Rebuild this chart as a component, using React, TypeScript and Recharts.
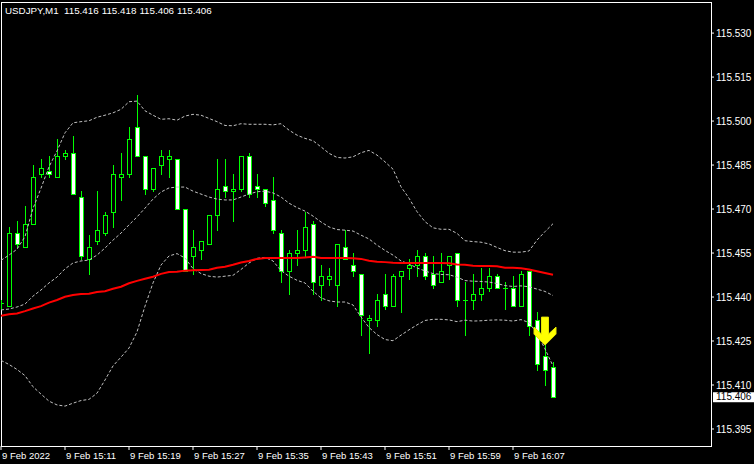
import React from 'react';
import {
  ComposedChart,
  Bar,
  Line,
  XAxis,
  YAxis,
  ReferenceArea,
  ReferenceLine,
  ReferenceDot,
  Customized,
} from 'recharts';

const symbolTitle = 'USDJPY,M1';
const lastQuote = ['115.416', '115.418', '115.406', '115.406'];

// One-minute bars, 9 Feb 2022 15:03 .. 16:12
const opens = [
  115.438, 115.437, 115.462, 115.457, 115.465, 115.482, 115.483, 115.481, 115.488, 115.489,
  115.474, 115.453, 115.459, 115.462, 115.469, 115.481, 115.482, 115.498, 115.488, 115.477,
  115.485, 115.487, 115.487, 115.470, 115.454, 115.456, 115.458, 115.468, 115.478, 115.476,
  115.477, 115.488, 115.478, 115.477, 115.473, 115.462, 115.449, 115.455, 115.456, 115.465,
  115.444, 115.446, 115.444, 115.457, 115.451, 115.448, 115.432, 115.432, 115.441, 115.437,
  115.447, 115.450, 115.451, 115.454, 115.448, 115.445, 115.451, 115.455, 115.439, 115.439,
  115.441, 115.443, 115.447, 115.443, 115.443, 115.437, 115.449, 115.432, 115.420, 115.416,
];
const highs = [
  115.439, 115.464, 115.466, 115.471, 115.485, 115.487, 115.488, 115.494, 115.490, 115.495,
  115.476, 115.461, 115.476, 115.469, 115.485, 115.489, 115.498, 115.509, 115.488, 115.484,
  115.490, 115.490, 115.487, 115.470, 115.463, 115.459, 115.468, 115.487, 115.487, 115.482,
  115.488, 115.489, 115.482, 115.477, 115.481, 115.463, 115.456, 115.463, 115.469, 115.466,
  115.451, 115.450, 115.458, 115.463, 115.455, 115.448, 115.434, 115.441, 115.448, 115.448,
  115.449, 115.453, 115.456, 115.455, 115.454, 115.455, 115.454, 115.455, 115.445, 115.448,
  115.450, 115.450, 115.448, 115.445, 115.447, 115.449, 115.449, 115.435, 115.424, 115.418,
];
const lows = [
  115.436, 115.437, 115.457, 115.457, 115.465, 115.481, 115.481, 115.481, 115.487, 115.475,
  115.453, 115.448, 115.458, 115.461, 115.464, 115.473, 115.481, 115.488, 115.475, 115.476,
  115.482, 115.481, 115.470, 115.449, 115.448, 115.453, 115.458, 115.463, 115.474, 115.466,
  115.476, 115.474, 115.474, 115.471, 115.462, 115.445, 115.441, 115.451, 115.454, 115.441,
  115.439, 115.444, 115.437, 115.453, 115.447, 115.427, 115.421, 115.430, 115.436, 115.437,
  115.435, 115.446, 115.447, 115.446, 115.443, 115.445, 115.446, 115.437, 115.427, 115.436,
  115.439, 115.442, 115.443, 115.436, 115.437, 115.437, 115.427, 115.415, 115.410, 115.406,
];
const closes = [
  115.438, 115.462, 115.458, 115.465, 115.481, 115.484, 115.482, 115.488, 115.489, 115.475,
  115.454, 115.457, 115.463, 115.468, 115.482, 115.482, 115.494, 115.488, 115.477, 115.484,
  115.488, 115.488, 115.470, 115.449, 115.457, 115.459, 115.468, 115.477, 115.476, 115.477,
  115.488, 115.475, 115.477, 115.472, 115.463, 115.449, 115.455, 115.456, 115.464, 115.445,
  115.447, 115.447, 115.458, 115.453, 115.449, 115.434, 115.433, 115.439, 115.437, 115.447,
  115.449, 115.451, 115.454, 115.447, 115.444, 115.449, 115.454, 115.439, 115.439, 115.441,
  115.443, 115.447, 115.443, 115.443, 115.437, 115.448, 115.430, 115.417, 115.415, 115.406,
];

// Red moving average
const maValues = [
  115.4336, 115.4341, 115.4344, 115.4352, 115.4361, 115.4369, 115.4381, 115.4390, 115.4401, 115.4407,
  115.4410, 115.4411, 115.4417, 115.4420, 115.4428, 115.4435, 115.4447, 115.4455, 115.4462, 115.4469,
  115.4479, 115.4485, 115.4486, 115.4490, 115.4491, 115.4492, 115.4493, 115.4500, 115.4503, 115.4510,
  115.4518, 115.4523, 115.4530, 115.4533, 115.4533, 115.4533, 115.4533, 115.4533, 115.4535, 115.4537,
  115.4533, 115.4533, 115.4533, 115.4533, 115.4532, 115.4530, 115.4524, 115.4520, 115.4519, 115.4517,
  115.4516, 115.4516, 115.4516, 115.4516, 115.4516, 115.4516, 115.4515, 115.4511, 115.4510, 115.4507,
  115.4506, 115.4506, 115.4505, 115.4500, 115.4500, 115.4498, 115.4494, 115.4488, 115.4482, 115.4476,
];

// Bollinger bands (dotted)
const bbUpper = [
  115.4525, 115.4543, 115.4563, 115.4606, 115.4702, 115.4771, 115.4844, 115.4898, 115.4960, 115.4994,
  115.4998, 115.5001, 115.5013, 115.5020, 115.5028, 115.5040, 115.5066, 115.5068, 115.5035, 115.5020,
  115.5006, 115.5008, 115.5003, 115.5017, 115.5023, 115.5020, 115.5009, 115.4998, 115.4985, 115.4984,
  115.4991, 115.4989, 115.4989, 115.4989, 115.4987, 115.4991, 115.4969, 115.4952, 115.4941, 115.4933,
  115.4912, 115.4890, 115.4876, 115.4874, 115.4878, 115.4892, 115.4900, 115.4884, 115.4861, 115.4836,
  115.4776, 115.4737, 115.4691, 115.4657, 115.4636, 115.4631, 115.4631, 115.4617, 115.4592, 115.4589,
  115.4587, 115.4581, 115.4569, 115.4558, 115.4553, 115.4553, 115.4557, 115.4594, 115.4623, 115.4650,
];
const bbMiddle = [
  115.4356, 115.4359, 115.4366, 115.4376, 115.4403, 115.4424, 115.4448, 115.4468, 115.4496, 115.4516,
  115.4523, 115.4526, 115.4543, 115.4567, 115.4594, 115.4618, 115.4646, 115.4673, 115.4703, 115.4734,
  115.4758, 115.4772, 115.4775, 115.4775, 115.4761, 115.4751, 115.4741, 115.4734, 115.4731, 115.4731,
  115.4741, 115.4751, 115.4759, 115.4761, 115.4755, 115.4741, 115.4720, 115.4705, 115.4693, 115.4676,
  115.4656, 115.4639, 115.4630, 115.4628, 115.4625, 115.4611, 115.4598, 115.4577, 115.4559, 115.4543,
  115.4523, 115.4513, 115.4499, 115.4489, 115.4480, 115.4477, 115.4476, 115.4468, 115.4456, 115.4454,
  115.4453, 115.4451, 115.4446, 115.4439, 115.4436, 115.4438, 115.4435, 115.4427, 115.4419, 115.4405,
];
const bbLower = [
  115.4184, 115.4170, 115.4153, 115.4132, 115.4094, 115.4069, 115.4045, 115.4032, 115.4028, 115.4038,
  115.4047, 115.4051, 115.4072, 115.4117, 115.4165, 115.4195, 115.4226, 115.4281, 115.4369, 115.4448,
  115.4509, 115.4540, 115.4548, 115.4533, 115.4497, 115.4480, 115.4471, 115.4468, 115.4471, 115.4474,
  115.4494, 115.4516, 115.4532, 115.4535, 115.4523, 115.4490, 115.4471, 115.4457, 115.4448, 115.4420,
  115.4397, 115.4387, 115.4383, 115.4383, 115.4373, 115.4332, 115.4296, 115.4272, 115.4255, 115.4251,
  115.4270, 115.4288, 115.4305, 115.4320, 115.4324, 115.4324, 115.4322, 115.4316, 115.4321, 115.4318,
  115.4319, 115.4321, 115.4322, 115.4321, 115.4318, 115.4323, 115.4313, 115.4276, 115.4223, 115.4165,
];

const xTickIndex = [0, 8, 16, 24, 32, 40, 48, 56, 64];
const xTickLabels = [
  '9 Feb 2022', '9 Feb 15:11', '9 Feb 15:19', '9 Feb 15:27', '9 Feb 15:35',
  '9 Feb 15:43', '9 Feb 15:51', '9 Feb 15:59', '9 Feb 16:07',
];
const yTicks = [115.395, 115.41, 115.425, 115.44, 115.455, 115.47, 115.485, 115.5, 115.515, 115.53];
const arrowSignal = { bar: 68, price: 115.4236 };

const priceMin = 115.3892;
const priceMax = 115.5406;
const barMax = 88.75;

const FONT = '"Liberation Sans", Arial, sans-serif';

const data = opens.map((o, i) => ({
  i,
  o,
  h: highs[i],
  l: lows[i],
  c: closes[i],
  range: [lows[i], highs[i]],
  ma: maValues[i],
  up: bbUpper[i],
  mid: bbMiddle[i],
  lo: bbLower[i],
}));

const Candle = (props: any) => {
  const { x, y, width, height, payload } = props;
  if (!payload || x == null || y == null) return null;
  const cx = Math.round(x + width / 2);
  const top = Math.min(y, y + height);
  const h = Math.abs(height);
  const span = payload.h - payload.l;
  const py = (v: number) => top + ((payload.h - v) / span) * h;
  const yo = py(payload.o);
  const yc = py(payload.c);
  const bTop = Math.round(Math.min(yo, yc));
  const bBot = Math.round(Math.max(yo, yc));
  const yHi = Math.round(top);
  const yLo = Math.round(top + h);
  const bear = payload.c < payload.o;
  return (
    <g>
      <line x1={cx + 0.5} x2={cx + 0.5} y1={yHi} y2={yLo + 1} stroke="#00ff00" strokeWidth={1} />
      {bBot - bTop < 1 ? (
        <line x1={cx - 2} x2={cx + 3} y1={bTop + 0.5} y2={bTop + 0.5} stroke="#00ff00" strokeWidth={1} />
      ) : (
        <rect
          x={cx - 1.5}
          y={bTop + 0.5}
          width={4}
          height={bBot - bTop}
          fill={bear ? '#ffffff' : '#000000'}
          stroke="#00ff00"
          strokeWidth={1}
        />
      )}
    </g>
  );
};

const XTick = (props: any) => {
  const { x, y, payload } = props;
  const idx = xTickIndex.indexOf(payload.value);
  return (
    <text x={x + 1} y={y} dy="0.71em" fill="#ffffff" fontSize={9.5} fontFamily={FONT} textAnchor="start">
      {xTickLabels[idx]}
    </text>
  );
};

const PriceTag = (props: any) => {
  const { viewBox } = props;
  if (!viewBox) return null;
  const x = viewBox.x + viewBox.width + 2;
  const y = viewBox.y;
  return (
    <g>
      <rect x={x} y={y - 4.5} width={41} height={10} fill="#ffffff" />
      <text x={x + 3} y={y} dy="0.36em" fill="#000000" fontSize={10} fontFamily={FONT}>
        {closes[closes.length - 1].toFixed(3)}
      </text>
    </g>
  );
};

const ArrowShape = (props: any) => {
  const { cx, cy } = props;
  if (cx == null || cy == null) return null;
  const pts: [number, number][] = [
    [-3.5, -28], [3.5, -28], [3.5, -11], [11, -18], [11, -11], [0, 0],
    [-11, -11], [-11, -18], [-3.5, -11],
  ];
  return (
    <polygon
      points={pts.map(([dx, dy]) => `${cx + dx},${cy + dy}`).join(' ')}
      fill="#ffff00"
      stroke="#e6e600"
      strokeWidth={1}
    />
  );
};

const FrameShape = (props: any) => {
  const { x, y, width, height } = props;
  return <rect x={x + 0.5} y={y + 0.5} width={width} height={height} fill="none" stroke="#ffffff" strokeWidth={1} />;
};

const Header = () => (
  <text x={5} y={14} fill="#ffffff" fontSize={9.8} fontFamily={FONT}>
    <tspan>{symbolTitle}</tspan>
    {lastQuote.map((q, k) => (
      <tspan key={k} dx={k === 0 ? 6 : 3}>
        {q}
      </tspan>
    ))}
  </text>
);

export default function App() {
  return (
    <div style={{ position: 'absolute', left: 0, top: 0, width: 754, height: 464, background: '#000000' }}>
      <ComposedChart width={754} height={464} data={data} margin={{ top: 2, right: 0, bottom: 0, left: 1 }}>
        <XAxis
          dataKey="i"
          type="number"
          domain={[0, barMax]}
          ticks={xTickIndex}
          interval={0}
          allowDataOverflow
          height={18}
          tickSize={4}
          tickLine={{ stroke: '#ffffff' }}
          axisLine={false}
          tick={<XTick />}
        />
        <YAxis
          orientation="right"
          type="number"
          domain={[priceMin, priceMax]}
          ticks={yTicks}
          interval={0}
          allowDataOverflow
          width={43}
          tickSize={3}
          tickMargin={2}
          axisLine={false}
          tickLine={{ stroke: '#ffffff' }}
          tickFormatter={(v: number) => v.toFixed(3)}
          tick={{ fill: '#ffffff', fontSize: 10, fontFamily: FONT }}
        />
        <Bar dataKey="range" barSize={5} shape={Candle} isAnimationActive={false} />
        <Line dataKey="up" type="linear" stroke="#c0c0c0" strokeWidth={1} strokeDasharray="3 2" dot={false} activeDot={false} isAnimationActive={false} />
        <Line dataKey="mid" type="linear" stroke="#c0c0c0" strokeWidth={1} strokeDasharray="3 2" dot={false} activeDot={false} isAnimationActive={false} />
        <Line dataKey="lo" type="linear" stroke="#c0c0c0" strokeWidth={1} strokeDasharray="3 2" dot={false} activeDot={false} isAnimationActive={false} />
        <Line dataKey="ma" type="linear" stroke="#ff0000" strokeWidth={2} dot={false} activeDot={false} isAnimationActive={false} />
        <ReferenceDot x={arrowSignal.bar} y={arrowSignal.price} shape={ArrowShape} />
        <ReferenceLine y={closes[closes.length - 1]} strokeOpacity={0} label={<PriceTag />} />
        <ReferenceArea x1={0} x2={barMax} y1={priceMin} y2={priceMax} shape={FrameShape} />
        <Customized component={Header} />
      </ComposedChart>
    </div>
  );
}
